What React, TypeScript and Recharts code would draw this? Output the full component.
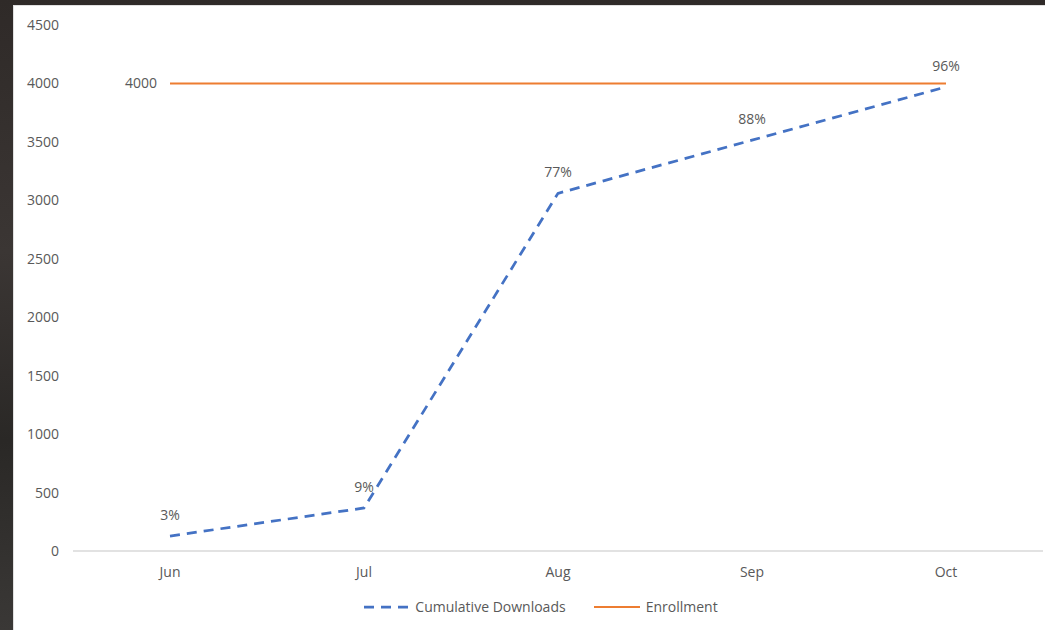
import { LineChart, Line, XAxis, YAxis, Legend, LabelList } from "recharts";

const months = ["Jun", "Jul", "Aug", "Sep", "Oct"];
const cumulativeDownloads = [128, 368, 3060, 3515, 3970];
const enrollment = [4000, 4000, 4000, 4000, 4000];
const pctLabels = ["3%", "9%", "77%", "88%", "96%"];
const yTicks = [0, 500, 1000, 1500, 2000, 2500, 3000, 3500, 4000, 4500];

const BLUE = "#4472C4";
const ORANGE = "#ED7D31";
const TEXT = "#595959";
const FONT = "'Open Sans', 'Noto Sans', sans-serif";

const data = months.map((m, i) => ({
  month: m,
  downloads: cumulativeDownloads[i],
  enrollment: enrollment[i],
  pct: pctLabels[i],
}));

function ChartLegend() {
  return (
    <div
      style={{
        display: "flex",
        justifyContent: "center",
        alignItems: "center",
        gap: 28,
        paddingLeft: 22,
        fontFamily: FONT,
        fontSize: 14,
        color: TEXT,
      }}
    >
      <span style={{ display: "flex", alignItems: "center", gap: 6 }}>
        <svg width={46} height={6}>
          <line x1={1} y1={3} x2={45} y2={3} stroke={BLUE} strokeWidth={2.75} strokeDasharray="10 7" />
        </svg>
        Cumulative Downloads
      </span>
      <span style={{ display: "flex", alignItems: "center", gap: 6 }}>
        <svg width={46} height={6}>
          <line x1={0} y1={3} x2={46} y2={3} stroke={ORANGE} strokeWidth={2} />
        </svg>
        Enrollment
      </span>
    </div>
  );
}

function EnrollmentLabel(props: any) {
  const { x, y, index, value } = props;
  if (index !== 0) return null;
  return (
    <text x={x - 13} y={y} dy="0.35em" textAnchor="end" fill={TEXT} fontSize={14} fontFamily={FONT}>
      {value}
    </text>
  );
}

export default function App() {
  return (
    <div
      style={{
        position: "absolute",
        left: 0,
        top: 0,
        width: 1045,
        height: 630,
        background: "linear-gradient(180deg, #2f2a28 0%, #3b3634 40%, #2a2826 70%, #3a3836 100%)",
        overflow: "hidden",
      }}
    >
      <div
        style={{
          position: "absolute",
          left: 13,
          top: 5,
          width: 1032,
          height: 625,
          background: "#ffffff",
          borderTop: "1px solid #e0e0e0",
          borderLeft: "1px solid #e0e0e0",
          boxSizing: "border-box",
        }}
      >
        <LineChart
          width={1031}
          height={624}
          data={data}
          margin={{ top: 19, right: 2, left: 0, bottom: 47 }}
        >
          <XAxis
            dataKey="month"
            padding={{ left: 97, right: 97 }}
            axisLine={{ stroke: "#d9d9d9", strokeWidth: 1.5 }}
            tickLine={false}
            tickSize={0}
            tickMargin={16}
            height={32}
            tick={{ fill: TEXT, fontSize: 14, fontFamily: FONT }}
          />
          <YAxis
            domain={[0, 4500]}
            ticks={yTicks}
            interval={0}
            axisLine={false}
            tickLine={false}
            tickSize={0}
            tickMargin={14}
            width={59}
            tick={{ fill: TEXT, fontSize: 14, fontFamily: FONT }}
          />
          <Line
            type="linear"
            dataKey="downloads"
            name="Cumulative Downloads"
            stroke={BLUE}
            strokeWidth={2.75}
            strokeDasharray="10 7"
            dot={false}
            activeDot={false}
            isAnimationActive={false}
          >
            <LabelList dataKey="pct" position="top" offset={16} fill={TEXT} fontSize={14} fontFamily={FONT} />
          </Line>
          <Line
            type="linear"
            dataKey="enrollment"
            name="Enrollment"
            stroke={ORANGE}
            strokeWidth={2}
            dot={false}
            activeDot={false}
            isAnimationActive={false}
          >
            <LabelList dataKey="enrollment" content={<EnrollmentLabel />} />
          </Line>
          <Legend
            layout="horizontal"
            verticalAlign="middle"
            align="center"
            content={() => <ChartLegend />}
            wrapperStyle={{ top: 591, left: 0, width: 1031, height: 24 }}
          />
        </LineChart>
      </div>
    </div>
  );
}
